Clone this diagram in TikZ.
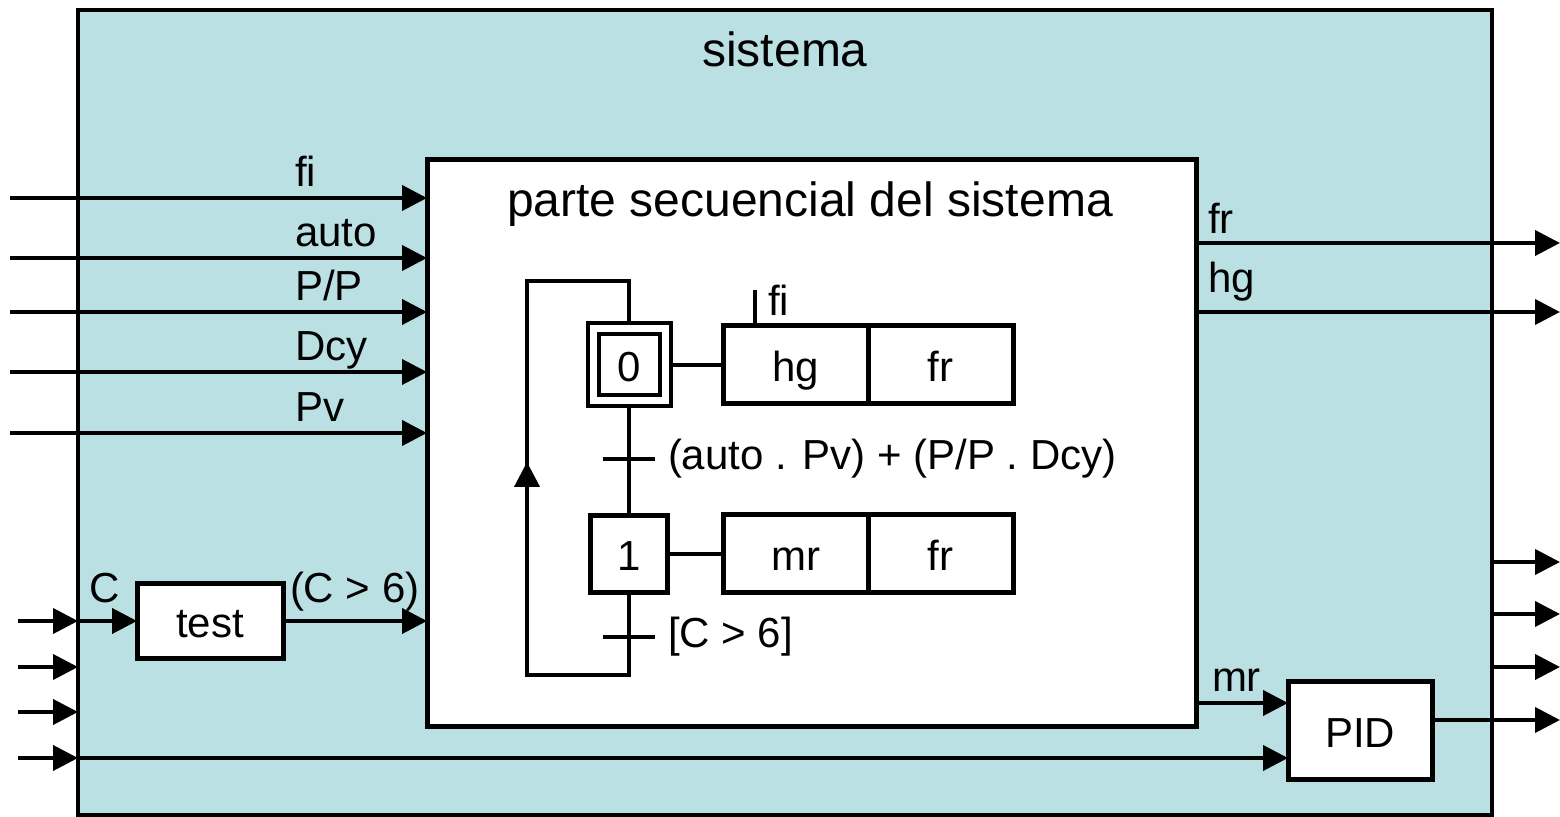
\documentclass[tikz,border=0pt]{standalone}
\usepackage{fontspec}
\setmainfont{Liberation Sans}
\usetikzlibrary{arrows.meta, positioning}
\definecolor{sysblue}{RGB}{186,224,227}

\begin{document}
\begin{tikzpicture}[x=0.5pt, y=-0.5pt,
  line width=2pt,
  font=\fontsize{21}{25}\selectfont,
  every node/.style={inner sep=0pt, outer sep=0pt},
  box/.style={draw, fill=white, line width=2.5pt, text height=16.5pt, text depth=0pt},
  act/.style={draw, line width=2.5pt, minimum width=72.5pt, minimum height=39pt, text height=17pt, text depth=0pt},
  stepbox/.style={draw, text height=17pt, text depth=0pt},
  sig/.style={-{Triangle[length=12.5pt, width=12.5pt]}},
  lbl/.style={anchor=base west},
  tr/.style={fill=black, minimum width=26pt, minimum height=2pt}]
  \useasboundingbox (0,0) rectangle (1560,817);

  % system and its sequential part
  \node[draw, fill=sysblue, minimum width=707pt, minimum height=402.5pt] (sys) at (785,412.5) {};
  \node[anchor=base, font=\fontsize{24}{28}\selectfont] (systitle) at (785,67) {sistema};
  \node[draw, fill=white, line width=2.5pt, minimum width=384.5pt, minimum height=283.5pt] (seq) at (811.5,443.5) {};
  \node[anchor=base, font=\fontsize{24}{28}\selectfont] (seqtitle) at (810,217) {parte secuencial del sistema};

  % inputs of the sequential part
  \foreach \y/\name [count=\i] in {198/fi, 258/auto, 312/{P/P}, 372/Dcy, 433/Pv} {
    \coordinate (in\i) at (10,\y);
    \draw[sig] (in\i) -- (in\i -| seq.west);
    \node[lbl] at (295,\y-11) {\name};
  }

  % outputs
  \coordinate (fr) at (1560,243);
  \coordinate (hg) at (1560,312);
  \draw[sig] (fr -| seq.east) -- (fr);
  \draw[sig] (hg -| seq.east) -- (hg);
  \node[lbl] at (1208,234) {fr};
  \node[lbl] at (1208,293) {hg};

  % test and PID blocks
  \foreach \y [count=\i] in {621,667,712,758} {
    \coordinate (ext\i) at (18,\y);
    \draw[sig] (ext\i) -- (ext\i -| sys.west);
  }
  \node[box, minimum width=73pt, minimum height=37.5pt] (test) at (210,621) {test};
  \draw[sig] (test.west -| sys.west) -- (test.west);
  \draw[sig] (test.east) -- (test.east -| seq.west);
  \node[lbl] at (89,603) {C};
  \node[lbl] at (290,603) {(C > 6)};

  \node[box, minimum width=72pt, minimum height=49pt] (pid) at (1360,731) {PID};
  \coordinate (mr) at (1196,703);
  \draw[sig] (mr) -- (mr -| pid.west);
  \node[lbl] at (1212,692) {mr};
  \draw[sig] (ext4 -| sys.west) -- (ext4 -| pid.west);
  \coordinate (pidout) at (1560,720);
  \draw[sig] (pidout -| pid.east) -- (pidout);
  \foreach \y in {562,614,667} {
    \coordinate (o) at (1560,\y);
    \draw[sig] (o -| sys.east) -- (o);
  }

  % grafcet
  \node[stepbox, double, double distance=3.5pt, outer sep=3.75pt, minimum size=36pt] (s0) at (629,365) {0};
  \node[stepbox, line width=2.5pt, minimum size=38.5pt] (s1) at (629,554) {1};
  \node[act, anchor=west] (a0) at (723,365) {hg};
  \node[act, right=0pt of a0] (a0b) {fr};
  \node[act, anchor=west] (a1) at (723,554) {mr};
  \node[act, right=0pt of a1] (a1b) {fr};
  \draw (s0) -- (a0);
  \draw (s1) -- (a1);
  \coordinate (fitop) at (755,290);
  \draw (fitop) -- (fitop |- a0.north);
  \node[lbl] at (768,316) {fi};

  \draw (s0) -- (s1);
  \node[tr, label={[label distance=6.5pt]right:(auto . Pv) + (P/P . Dcy)}] (t0) at (629,459) {};
  \coordinate (lb) at (629,675);
  \coordinate (ll) at (527,675);
  \coordinate (lu) at (527,281);
  \coordinate (lt) at (629,281);
  \coordinate (up) at (527,462);
  \draw (s1) -- (lb) -- (ll) -- (lu) -- (lt) -- (s0);
  \draw[sig] (ll) -- (up);
  \node[tr, label={[label distance=6.5pt]right:[C > 6]}] (t1) at (629,637) {};
\end{tikzpicture}
\end{document}
